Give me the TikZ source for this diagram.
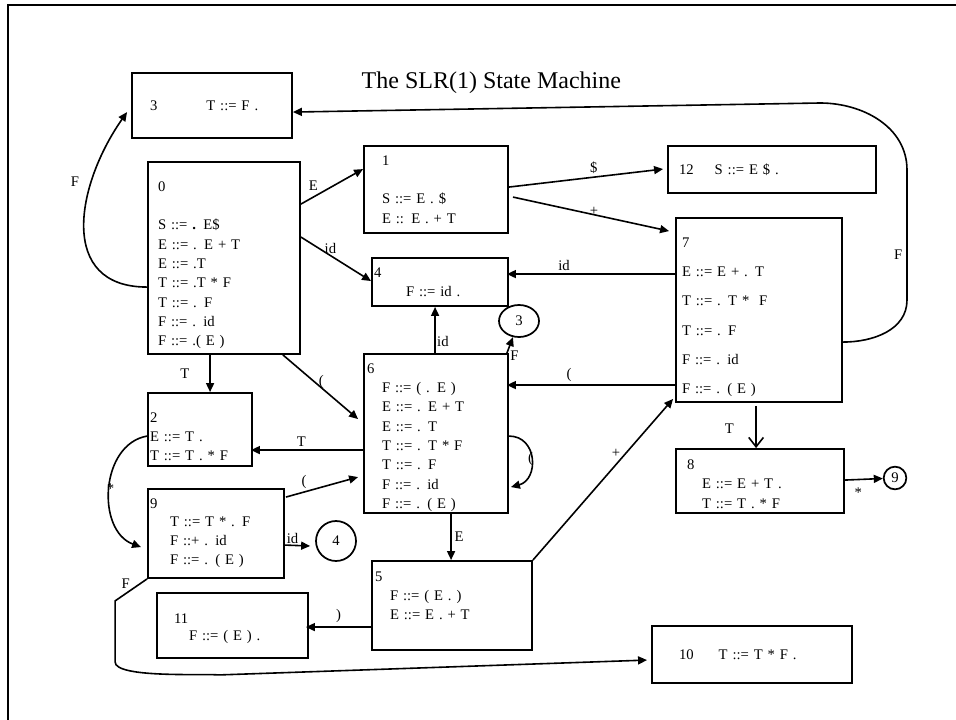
\documentclass[tikz,border=0pt]{standalone}
\usepackage{fontspec}
\setmainfont{Liberation Serif}
\usetikzlibrary{arrows.meta,positioning,calc,shapes.geometric}
\newcommand{\stind}{\hspace*{11.25pt}}
\newcommand{\toppad}[1]{\rule{0pt}{#1}}
\tikzset{
  statebox/.style={
    draw,
    line width=1.4pt,
    align=left,
    inner ysep=0pt,
    font=\fontsize{11}{14.5}\selectfont
  },
  gotoref/.style={
    draw,
    circle,
    line width=1.3pt,
    inner sep=0pt,
    font=\fontsize{11}{13}\selectfont
  },
  trans/.style={-{Triangle[length=6.75pt,width=6pt]},line width=1.2pt},
  opentrans/.style={-{Straight Barb[length=7pt,width=11pt]},line width=1.2pt},
  lbl/.style={inner sep=1pt,font=\fontsize{11}{13}\selectfont},
  frameline/.style={line width=1.9pt}
}

\begin{document}
\begin{tikzpicture}[x=0.75pt,y=0.75pt]
\useasboundingbox (0,0) rectangle (956,-720);
\draw[frameline] (960,-5) -- (8,-5) -- (8,-724);

\node[anchor=base west,font=\fontsize{18}{20}\selectfont] (title) at (357,-89) {The SLR(1) State Machine};

% states
\node[statebox,minimum width=120pt,minimum height=48.75pt,inner xsep=13.5pt,text width=93pt] (s3) at (212,-105.5)
  {3\hspace{36.75pt}T ::= F .};
\node[statebox,minimum width=114pt,minimum height=144pt,inner xsep=7.5pt,text width=99pt] (s0) at (224,-258)
  {\toppad{18pt}0\\[14.5pt]
   S ::= \textbf{.} E\$\\
   E ::= . E + T\\
   E ::= .T\\
   T ::= .T * F\\
   T ::= . F\\
   F ::= . id\\
   F ::= .( E )};
\node[statebox,minimum width=108pt,minimum height=65.25pt,inner xsep=13.5pt,text width=81pt] (s1) at (436,-189.5)
  {1\\[14.5pt]
   S ::= E . \$\\
   E :: E . + T};
\node[statebox,minimum width=156pt,minimum height=35.25pt,inner xsep=8.25pt,text width=139.5pt] (s12) at (772,-169.5)
  {12\hspace{15.75pt}S ::= E \$ .};
\node[statebox,minimum width=124.5pt,minimum height=138pt,inner xsep=4.5pt,text width=115.5pt,
  font=\fontsize{11}{22}\selectfont] (s7) at (759,-310)
  {\toppad{18pt}7\\
   E ::= E + . T\\
   T ::= . T *\ \ F\\
   T ::= . F\\
   F ::= . id\\
   F ::= . ( E )};
\node[statebox,minimum width=102pt,minimum height=36pt,inner xsep=1.5pt,text width=99pt] (s4) at (440,-282)
  {4\\ \hspace*{24pt}F ::= id .};
\node[statebox,minimum width=108pt,minimum height=119.25pt,inner xsep=2.25pt,text width=103.5pt] (s6) at (436,-433.5)
  {\toppad{13.5pt}6\\
   \stind F ::= ( . E )\\
   \stind E ::= . E + T\\
   \stind E ::= . T\\
   \stind T ::= . T * F\\
   \stind T ::= . F\\
   \stind F ::= . id\\
   \stind F ::= . ( E )};
\node[statebox,minimum width=120pt,minimum height=66.75pt,inner xsep=2.25pt,text width=115.5pt] (s5) at (452,-605.5)
  {5\\
   \stind F ::= ( E . )\\
   \stind E ::= E . + T\\ \mbox{}};
\node[statebox,minimum width=113.25pt,minimum height=48.75pt,inner xsep=12.75pt,text width=87.75pt] (s11) at (232.5,-625.5)
  {\toppad{12pt}11\\[-1.5pt] \stind F ::= ( E ) .};
\node[statebox,minimum width=150pt,minimum height=42.75pt,inner xsep=20.25pt,text width=109.5pt] (s10) at (752,-654.5)
  {10\hspace{18.75pt}T ::= T * F .};
\node[statebox,minimum width=78pt,minimum height=54.75pt,inner xsep=1.5pt,text width=75pt] (s2) at (200,-429.5)
  {\toppad{18pt}2\\
   E ::= T .\\
   T ::= T . * F};
\node[statebox,minimum width=102pt,minimum height=66.75pt,inner xsep=1.5pt,text width=99pt] (s9) at (216,-533.5)
  {9\\[-1.5pt]
   \hspace*{15pt}T ::= T * . F\\
   \hspace*{15pt}F ::+ . id\\
   \hspace*{15pt}F ::= . ( E )};
\node[statebox,minimum width=126pt,minimum height=48pt,inner xsep=8.25pt,text width=109.5pt] (s8) at (760,-481)
  {\toppad{12pt}8\\
   \stind E ::= E + T .\\
   \stind T ::= T . * F};

% goto references
\node[gotoref,ellipse,minimum width=30pt,minimum height=24pt] (c3) at (519,-321) {3};
\node[gotoref,minimum size=30pt] (c4) at (336,-541) {4};
\node[gotoref,minimum size=17pt] (c9) at (895,-478) {9};

% transitions
\draw[trans] ($(s0.north west)+(0,-126)$) to[out=180,in=235,looseness=1.3]
  node[lbl,pos=0.7,left=8pt] {F} ($(s3.north west)+(-4,-40)$);
\draw[trans] ($(s7.north east)+(0,-125)$) to[out=0,in=-90] (907,-300)
  -- node[lbl,pos=0.35,left=2pt] {F} (907,-170)
  to[out=90,in=0] (820,-103) -- ($(s3.north east)+(0,-40)$);
\draw[trans] ($(s0.north east)+(0,-43)$) -- node[lbl,pos=0.2,above=3pt] {E} ($(s1.north west)+(0,-24)$);
\draw[trans] ($(s0.north east)+(0,-76)$) -- node[lbl,pos=0.42,above=0pt] {id} ($(s4.north west)+(0,-24)$);
\draw[trans] ($(s1.north east)+(0,-42)$) -- node[lbl,pos=0.55,above=1pt] {\$} ($(s12.north west)+(-4,-24)$);
\draw[trans] ($(s1.north east)+(4,-52)$) -- node[lbl,pos=0.52,above=-2pt] {+} ($(s7.north west)+(-6,-14)$);
\draw[trans] ($(s7.north west)+(0,-57)$) -- node[lbl,pos=0.66,above=1pt] {id} ($(s4.north east)+(-2,-17)$);
\draw[trans] ($(s7.north west)+(0,-168)$) -- node[lbl,pos=0.63,above=1pt] {(} ($(s6.north east)+(-2,-32)$);
\draw[opentrans] ($(s7.south west)+(81,-3)$) -- node[lbl,pos=0.55,left=15pt] {T} ($(s8.north west)+(81,0)$);
\draw[trans] ($(s8.north east)+(0,-32)$) -- node[lbl,pos=0.35,below=5pt] {*} (c9);
\draw[trans] ($(s0.south west)+(63,0)$) -- node[lbl,left=14pt] {T} ($(s2.north west)+(63,0)$);
\draw[trans] ($(s0.south east)+(-18,0)$) -- node[lbl,pos=0.5,above right=-4pt] {(} ($(s6.north west)+(-5,-66)$);
\draw[trans] ($(s6.north west)+(0,-97)$) -- node[lbl,pos=0.55,above=1pt] {T} ($(s2.north east)+(-2,-58)$);
\draw[trans] ($(s6.north west)+(72,0)$) -- node[lbl,pos=0.25,right=0pt] {id} ($(s4.south west)+(64,0)$);
\draw[trans] ($(s6.north east)+(-2,0)$) -- node[lbl,pos=0,right=1pt,yshift=-2pt] {F} (c3);
\draw[trans] ($(s6.north east)+(0,-83)$) to[out=0,in=15,looseness=1.45]
  node[lbl,pos=0.5,right=-4pt] {(} ($(s6.north east)+(2,-134)$);
\draw[trans] ($(s6.south west)+(88,0)$) -- node[lbl,right=1pt] {E} ($(s5.north west)+(80,0)$);
\draw[trans] (s5.north east) -- node[lbl,pos=0.63,above left=-1pt] {+} ($(s7.south west)+(-2,4)$);
\draw[trans] ($(s5.north west)+(0,-67)$) -- node[lbl,above=2pt] {)} ($(s11.north east)+(-3,-35)$);
\draw[trans] ($(s2.north west)+(0,-44)$) to[out=190,in=160,looseness=1.1]
  node[lbl,pos=0.5,left=-5pt] {*} ($(s9.north west)+(-6,-59)$);
\draw[trans] ($(s9.north east)+(1,-9)$) -- node[lbl,pos=0.25,above=1pt] {(} ($(s6.north west)+(-5,-124)$);
\draw[trans] ($(s9.north east)+(0,-57)$) -- node[lbl,pos=0.3,above=0pt] {id} ($(c4.west)+(-5,-5)$);
\draw[trans] (s9.south west) -- node[lbl,above left=-1pt] {F} ++(-32,-22) -- ++(0,-61)
  to[out=-90,in=175,looseness=0.4] ++(104,-13) -- ($(s10.north west)+(-4,-35)$);
\end{tikzpicture}
\end{document}
